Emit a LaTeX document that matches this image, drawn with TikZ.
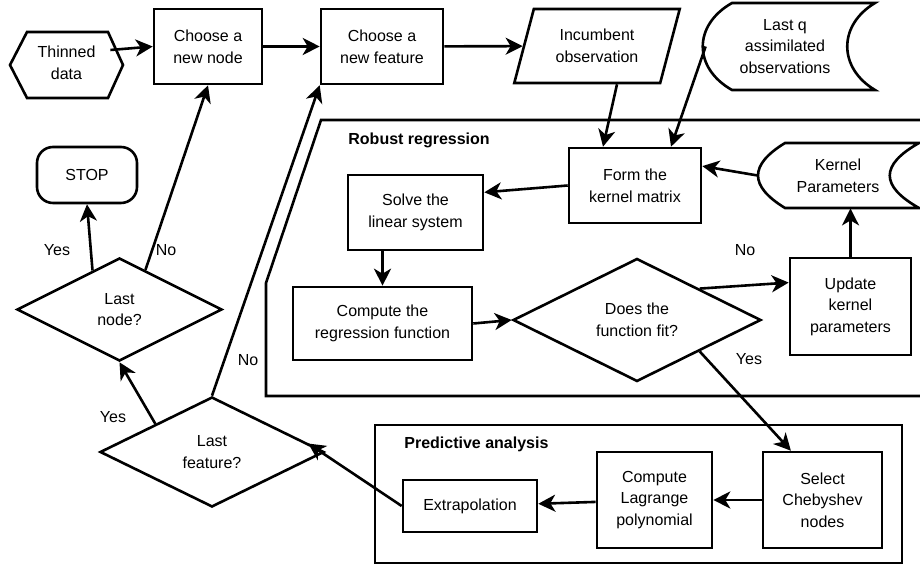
\documentclass[tikz,border=0pt]{standalone}
\usepackage{fontspec}
\setmainfont{Liberation Sans}
\usetikzlibrary{arrows.meta}
\usetikzlibrary{shapes.geometric}
\usetikzlibrary{calc}

\tikzset{
	box/.style={draw, line width=1.3pt, align=center, inner sep=0pt},
	decision/.style={draw, diamond, line width=1.3pt, align=center, inner sep=0pt},
	plain/.style={align=center, inner sep=0pt},
	flow/.style={line width=1.3pt, -{Stealth[length=8.5pt,width=8.5pt,inset=2.5pt]}},
	answer/.style={inner sep=0pt},
	title/.style={inner sep=0pt, anchor=west, font=\fontsize{8}{10.8}\selectfont\bfseries}
}

\begin{document}
\begin{tikzpicture}[x=0.5pt, y=-0.5pt, font=\fontsize{8}{10.8}\selectfont]
	\useasboundingbox (0,0) rectangle (920,565);

	%Thinned data
	\draw [line width=1.3pt] (10,65) -- (27,32) -- (108,32) -- (123,65) -- (108,98) -- (27,98) -- cycle;
	\node [plain, minimum width=56.5pt, minimum height=33pt] (thin) at (66.5,63) {Thinned\\data};

	%Outer loop
	\node [box, minimum width=54pt, minimum height=37.5pt] (newnode) at (208,46.5) {Choose a\\new node};
	\node [box, minimum width=61pt, minimum height=37.5pt] (newfeat) at (382,46.5) {Choose a\\new feature};
	\node [draw, trapezium, trapezium left angle=69, trapezium right angle=111, trapezium stretches=true, line width=1.3pt, align=center, inner sep=0pt, minimum width=83pt, minimum height=37pt] (incumbent) at (597,46) {Incumbent\\observation};

	%Last q assimilated observations
	\draw [line width=1.3pt] (732,3) -- (875,3) .. controls (838,25) and (838,68) .. (875,90) -- (732,90) .. controls (693,68) and (693,25) .. (732,3) -- cycle;
	\node [plain, minimum width=87pt, minimum height=43.5pt] (lastq) at (785,46.5) {Last q\\assimilated\\observations};

	%Robust regression
	\draw [line width=1.3pt] (920,120) -- (321,120) -- (266,283) -- (266,396) -- (920,396);
	\node [title] (robust) at (348,140) {Robust regression};
	\node [box, minimum width=66pt, minimum height=37.5pt] (formk) at (635,185.5) {Form the\\kernel matrix};
	\draw [line width=1.3pt] (785,143) -- (919,143) .. controls (880,165) and (880,186) .. (919,208) -- (785,208) .. controls (749,186) and (749,165) .. (785,143) -- cycle;
	\node [plain, minimum width=80pt, minimum height=32.5pt] (kparam) at (838,175.5) {Kernel\\Parameters};
	\node [box, minimum width=67.5pt, minimum height=37.5pt] (solve) at (415.5,212.5) {Solve the\\linear system};
	\node [box, minimum width=89.5pt, minimum height=36.5pt] (regfun) at (382.5,323.5) {Compute the\\regression function};
	\node [decision, minimum width=124pt, minimum height=61.5pt] (fit) at (637,320) {Does the\\function fit?};
	\node [box, minimum width=60.5pt, minimum height=48.5pt] (update) at (850.5,306.5) {Update\\kernel\\parameters};

	%Predictive analysis
	\draw [line width=1.3pt] (375,425) rectangle (902,563);
	\node [title] (predictive) at (404,444) {Predictive analysis};
	\node [box, minimum width=67pt, minimum height=26pt] (ext) at (470,506) {Extrapolation};
	\node [box, minimum width=57.5pt, minimum height=48pt] (lag) at (654.5,500) {Compute\\Lagrange\\polynomial};
	\node [box, minimum width=59.5pt, minimum height=48pt] (cheb) at (822.5,500) {Select\\Chebyshev\\nodes};

	%Decisions
	\node [box, rounded corners=8pt, minimum width=50pt, minimum height=28pt] (stop) at (87,175) {STOP};
	\node [decision, minimum width=102.5pt, minimum height=51.5pt] (lastnode) at (119.5,309.5) {Last\\node?};
	\node [decision, minimum width=112pt, minimum height=55pt] (lastfeat) at (212,452) {Last\\feature?};

	%Answers
	\node [answer] (yesstop) at (57,250) {Yes};
	\node [answer] (nonode) at (166,250) {No};
	\node [answer] (yesnode) at (113,417) {Yes};
	\node [answer] (nofeat) at (248,360) {No};
	\node [answer] (nofit) at (745,250) {No};
	\node [answer] (yesfit) at (749,359) {Yes};

	%Connectors
	\draw [flow] ([xshift=-6.5pt,yshift=6.5pt]thin.east) -- (newnode.west);
	\draw [flow] (newnode) -- (newfeat);
	\draw [flow] (newfeat) -- (incumbent);
	\draw [flow] ([xshift=10pt]incumbent.south) -- ([xshift=-16pt]formk.north);
	\draw [flow] ([xshift=4pt]lastq.west) -- ([xshift=18pt]formk.north);
	\draw [flow] (kparam.west) -- ($(formk.north east)!0.25!(formk.south east)$);
	\draw [flow] (formk.west) -- ($(solve.north east)!0.24!(solve.south east)$);
	\draw [flow] (regfun.north |- solve.south) -- (regfun.north);
	\draw [flow] (regfun.east) -- (fit.west);
	\draw [flow] (fit.north east) -- ($(update.north west)!0.26!(update.south west)$);
	\draw [flow] (update.north) -- (update.north |- kparam.south);
	\draw [flow] (fit.south east) -- ($(cheb.north west)!0.24!(cheb.north east)$);
	\draw [flow] (cheb) -- (lag);
	\draw [flow] (lag) -- (ext);
	\draw [flow] (ext.west) -- ($(lastfeat.north)!0.85!(lastfeat.east)$);
	\draw [flow] (lastfeat.north west) -- (lastnode.south);
	\draw [flow] (lastfeat.north) -- (newfeat.south west);
	\draw [flow] ($(lastnode.north)!0.26!(lastnode.west)$) -- (stop.south);
	\draw [flow] ($(lastnode.north)!0.25!(lastnode.east)$) -- (newnode.south);
\end{tikzpicture}
\end{document}
